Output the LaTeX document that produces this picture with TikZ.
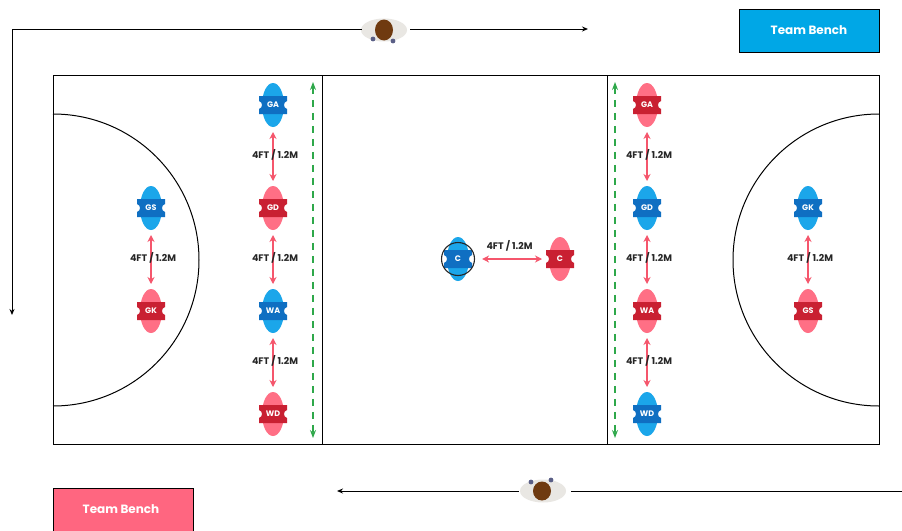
\documentclass[tikz,border=0pt]{standalone}
\usepackage{fontspec}
\setmainfont{Poppins}
\usetikzlibrary{arrows.meta,shapes.geometric,calc}
\definecolor{blueL}{HTML}{1BA6EA}
\definecolor{blueD}{HTML}{0F6FC2}
\definecolor{redL}{HTML}{FF6F85}
\definecolor{redD}{HTML}{C92032}
\definecolor{benchB}{HTML}{00A7E6}
\definecolor{benchR}{HTML}{FF6680}
\definecolor{gap}{HTML}{F5566C}
\definecolor{lane}{HTML}{2EA84A}
\definecolor{skin}{HTML}{6F3A10}
\definecolor{cloth}{HTML}{E9E7E3}
\definecolor{shoe}{HTML}{5A5F86}
\tikzset{
  x=1pt,y=-1pt,
  court/.style={draw=black,line width=1pt},
  walk/.style={draw=black,line width=1pt,-{Stealth[length=6pt,width=5pt]}},
  gaparrow/.style={draw=gap,line width=1.3pt,{Stealth[length=7pt,width=7pt]}-{Stealth[length=7pt,width=7pt]}},
  lanearrow/.style={color=lane,line width=1.2pt,dash pattern=on 7pt off 6pt,{Stealth[length=8pt,width=6pt,sep=0pt]}-{Stealth[length=8pt,width=6pt]}},
  gaplabel/.style={font=\bfseries\fontsize{9.5}{9.5}\selectfont,text=black!85,inner sep=0pt},
  bench/.style={draw=black,line width=1pt,minimum width=140pt,minimum height=43pt,text=white,font=\bfseries\fontsize{12}{12}\selectfont,inner sep=0pt},
  body/.style={ellipse,inner sep=0pt,minimum width=22pt,minimum height=44pt,outer sep=5pt},
  tag/.style={text=white,font=\bfseries\fontsize{8}{8}\selectfont,inner sep=0pt},
}
% #1 name, #2 x, #3 y, #4 light, #5 dark, #6 label
\newcommand{\plyr}[6]{%
  \node[body,fill=#4] (#1) at (#2,#3) {};
  \fill[#5] ($(#2,#3)+(-14,-9)$) -- ($(#2,#3)+(14,-9)$) -- ($(#2,#3)+(14,-4)$)
    .. controls ($(#2,#3)+(10,-3)$) and ($(#2,#3)+(10,3)$) .. ($(#2,#3)+(14,4)$)
    -- ($(#2,#3)+(14,9)$) -- ($(#2,#3)+(-14,9)$) -- ($(#2,#3)+(-14,4)$)
    .. controls ($(#2,#3)+(-10,3)$) and ($(#2,#3)+(-10,-3)$) .. ($(#2,#3)+(-14,-4)$) -- cycle;
  \node[tag] (#1-t) at (#2,#3) {#6};
}
\begin{document}
\begin{tikzpicture}
\useasboundingbox (0,0) rectangle (902,530);
\fill[white] (0,0) rectangle (902,530);
% court
\draw[court] (53,75) rectangle (879,444);
\draw[court] (322,75) -- (322,444);
\draw[court] (607,75) -- (607,444);
\draw[court] (53,114) arc[start angle=90,end angle=-90,radius=146pt];
\draw[court] (879,114) arc[start angle=90,end angle=270,radius=146pt];
% benches
\node[bench,fill=benchB] (benchA) at (809,30.5) {Team Bench};
\node[bench,fill=benchR] (benchC) at (123,509.5) {\hspace{-4pt}Team Bench};
% umpires
\node[ellipse,fill=cloth,minimum width=46pt,minimum height=23pt,inner sep=0pt] (umpT) at (384,30) {};
\fill[shoe] (373,39) circle[radius=2.4pt] (393,41) circle[radius=2.4pt];
\node[ellipse,fill=skin,minimum width=18pt,minimum height=21pt,inner sep=0pt] (umpTh) at (384,30) {};
\node[ellipse,fill=cloth,minimum width=46pt,minimum height=23pt,inner sep=0pt] (umpB) at (543,491) {};
\fill[shoe] (531,482) circle[radius=2.4pt] (551,480) circle[radius=2.4pt];
\node[ellipse,fill=skin,minimum width=18pt,minimum height=19pt,inner sep=0pt] (umpBh) at (542,491) {};
% walking paths
\coordinate (wa) at (588,29);
\coordinate (wb) at (12,29);
\coordinate (wc) at (12,315);
\coordinate (wd) at (902,491);
\coordinate (we) at (337,491);
\draw[walk] ($(umpT.east |- wa)+(3,0)$) -- (wa);
\draw[walk] ($(umpT.west |- wa)+(1,0)$) -- (wb) -- (wc);
\draw[walk,-] (wd) -- ($(umpB.east |- wd)+(5,0)$);
\draw[walk] (umpB.west |- wd) ++(-1,0) -- (we);
% lane arrows
\coordinate (la) at (313,82); \coordinate (lb) at (313,438);
\coordinate (lc) at (615,82); \coordinate (ld) at (615,438);
\draw[lanearrow] (la) -- (lb);
\draw[lanearrow] (lc) -- (ld);
% players
\plyr{ga1}{273}{105}{blueL}{blueD}{GA}
\plyr{gd1}{273}{208}{redL}{redD}{GD}
\plyr{wa1}{273}{311}{blueL}{blueD}{WA}
\plyr{wd1}{273}{414}{redL}{redD}{WD}
\plyr{gs1}{151}{208}{blueL}{blueD}{GS}
\plyr{gk1}{151}{311}{redL}{redD}{GK}
\plyr{ga2}{647}{105}{redL}{redD}{GA}
\plyr{gd2}{647}{208}{blueL}{blueD}{GD}
\plyr{wa2}{647}{311}{redL}{redD}{WA}
\plyr{wd2}{647}{414}{blueL}{blueD}{WD}
\plyr{gk2}{808}{208}{blueL}{blueD}{GK}
\plyr{gs2}{808}{311}{redL}{redD}{GS}
\plyr{c1}{458}{259}{blueL}{blueD}{C}
\plyr{c2}{560}{259}{redL}{redD}{C}
\node[circle,draw=black!85,line width=1.1pt,minimum size=33pt,inner sep=0pt] (ring) at (458,259) {};
% gap arrows
\foreach \a/\b in {ga1/gd1,gd1/wa1,wa1/wd1,gs1/gk1,ga2/gd2,gd2/wa2,wa2/wd2,gk2/gs2}{
  \draw[gaparrow] (\a) -- (\b) node[midway,gaplabel,xshift=2pt,yshift=2pt] (\a-g) {4FT / 1.2M};
}
\draw[gaparrow,shorten <=7pt,shorten >=2pt] (ring) -- (c2) node[midway,gaplabel,yshift=13pt] (c1-g) {4FT / 1.2M};
\end{tikzpicture}
\end{document}
